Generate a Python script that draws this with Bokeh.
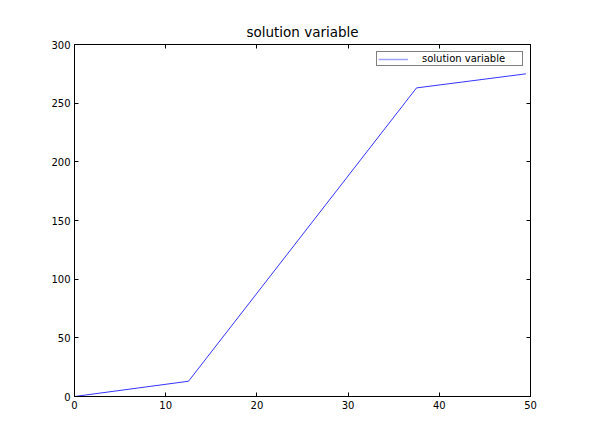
from bokeh.plotting import figure
from bokeh.embed import file_html
from bokeh.resources import INLINE
from bokeh.models import LinearAxis, Range1d, FixedTicker, Legend, LegendItem

x_vals = [0.0, 12.5, 37.5, 49.5]
y_vals = [0.0, 13.0, 263.0, 275.0]
x_ticks = [0, 10, 20, 30, 40, 50]
y_ticks = [0, 50, 100, 150, 200, 250, 300]
series_name = "solution variable"
title_text = "solution variable"

p = figure(width=589, height=445, output_backend="svg", toolbar_location=None,
           x_range=Range1d(0, 50), y_range=Range1d(0, 300),
           title=title_text, x_axis_location=None, y_axis_location=None,
           min_border_left=74, min_border_right=59, min_border_top=44, min_border_bottom=49)
p.title.align = "center"
p.title.text_font = "DejaVu Sans"
p.title.text_font_size = "13.5px"
p.title.text_font_style = "normal"
p.title.text_color = "black"
p.title.offset = 0
p.grid.visible = False
p.outline_line_color = "black"
p.outline_line_width = 1
p.background_fill_color = "white"
p.border_fill_color = "white"

def mk_axis(ticks, labels=True):
    ax = LinearAxis(ticker=FixedTicker(ticks=ticks))
    ax.major_tick_in = 4
    ax.major_tick_out = 0
    ax.minor_tick_in = 0
    ax.minor_tick_out = 0
    ax.axis_line_color = "black"
    ax.major_tick_line_color = "black"
    ax.major_label_text_font = "DejaVu Sans"
    ax.major_label_text_font_size = "10px"
    ax.major_label_text_color = "black"
    ax.major_label_standoff = 4
    if not labels:
        ax.major_label_text_alpha = 0
        ax.major_label_text_font_size = "1px"
        ax.major_label_standoff = 0
    return ax

p.add_layout(mk_axis(x_ticks), "below")
p.add_layout(mk_axis(y_ticks), "left")
p.add_layout(mk_axis(x_ticks, False), "above")
p.add_layout(mk_axis(y_ticks, False), "right")

r = p.line(x_vals, y_vals, line_color="#0000ff", line_width=0.8)
# single-point line: draws nothing in the plot, only supplies the legend swatch style
r_leg = p.line(x_vals[:1], y_vals[:1], line_color="#a0a0ff", line_width=1.5)

legend = Legend(items=[LegendItem(label=series_name, renderers=[r_leg])], location="top_right")
legend.border_line_color = "black"
legend.border_line_width = 1
legend.label_text_font = "DejaVu Sans"
legend.label_text_font_size = "10px"
legend.label_text_color = "black"
legend.label_height = 8
legend.glyph_height = 8
legend.glyph_width = 30
legend.label_width = 99
legend.padding = 1
legend.spacing = 0
legend.margin = 7
legend.label_standoff = 14
legend.background_fill_alpha = 1
p.add_layout(legend)

open("out.html", "w").write(file_html(p, INLINE))
